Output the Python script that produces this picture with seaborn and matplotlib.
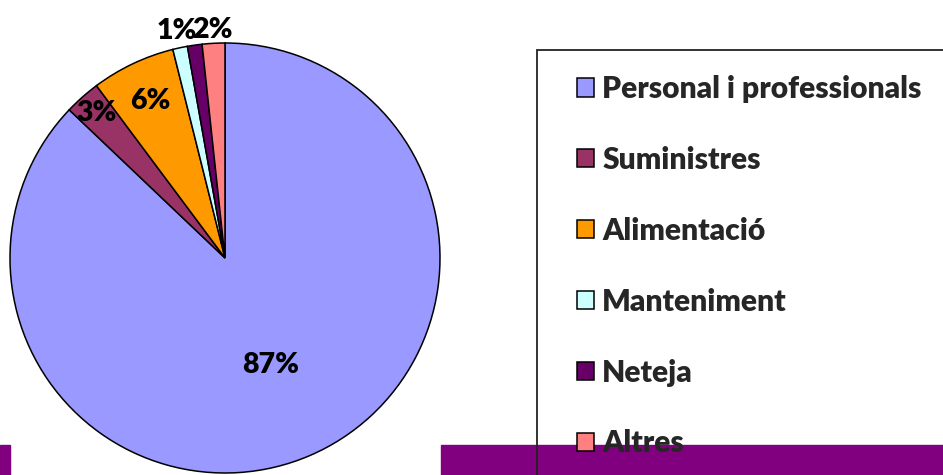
import numpy as np
import matplotlib.pyplot as plt
import seaborn as sns
from matplotlib.patches import Rectangle

sns.set_theme(style="white")
plt.rcParams['font.family'] = ['Lato', 'DejaVu Sans']

# 数据
categories = ['Personal i professionals', 'Suministres', 'Alimentació',
              'Manteniment', 'Neteja', 'Altres']
values = [87.1, 2.7, 6.3, 1.1, 1.1, 1.7]
pct_labels = ['87%', '3%', '6%', '1%', '', '2%']
colors = ['#9999FF', '#993366', '#FF9900', '#CCFFFF', '#660066', '#FF8080']

# 标签到圆心的距离（半径倍数）
label_dist = [0.54, 0.9, 0.81, 1.08, 1.0, 1.06]

W, H = 943, 475
fig = plt.figure(figsize=(W / 100, H / 100), dpi=100)

# 底部紫色条
fig.patches.append(Rectangle((0, 0), 10 / W, 30 / H, transform=fig.transFigure,
                             color='#800080', zorder=0))
fig.patches.append(Rectangle((441 / W, 0), 1, 30 / H, transform=fig.transFigure,
                             color='#800080', zorder=0))

# 饼图
cx, cy, r = 225, 258, 215
ax = fig.add_axes([(cx - r) / W, (H - cy - r) / H, 2 * r / W, 2 * r / H])
ax.patch.set_alpha(0)
wedges, _ = ax.pie(values, colors=colors, startangle=90, counterclock=False,
                   radius=1, wedgeprops=dict(edgecolor='black', linewidth=1.1))
ax.set_xlim(-1, 1)
ax.set_ylim(-1, 1)
ax.set_aspect('equal')
ax.axis('off')

for w, lab, d in zip(wedges, pct_labels, label_dist):
    if not lab:
        continue
    ang = np.deg2rad((w.theta1 + w.theta2) / 2)
    ax.text(d * np.cos(ang), d * np.sin(ang), lab, ha='center', va='center',
            fontsize=20.5, fontweight='heavy', color='black')

# 图例边框
fig.patches.append(Rectangle((537 / W, -0.1), 1, (H - 50) / H + 0.1,
                             transform=fig.transFigure, fill=False,
                             edgecolor='#222222', linewidth=1.3, zorder=1))

leg = fig.legend(wedges, categories, loc='upper left',
                 bbox_to_anchor=(577 / W, (H - 75) / H),
                 frameon=False, prop=dict(size=21.6, weight='heavy'),
                 handlelength=0.56, handleheight=0.56, handletextpad=0.28,
                 labelspacing=1.43, borderaxespad=0, borderpad=0)

fig.savefig('out.png', dpi=100)
